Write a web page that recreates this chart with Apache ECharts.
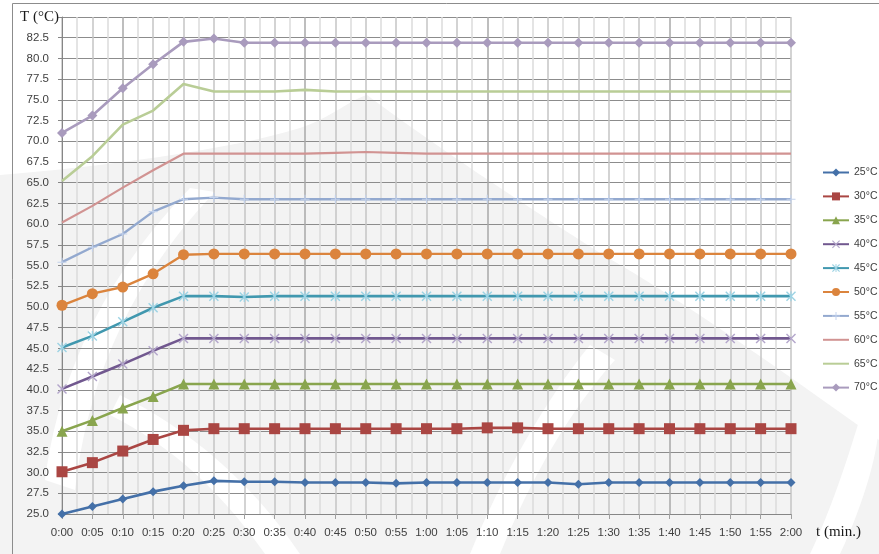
<!DOCTYPE html>
<html>
<head>
<meta charset="utf-8">
<script src="https://cdn.jsdelivr.net/npm/echarts@6/dist/echarts.min.js"></script>
<style>
  html, body { margin: 0; padding: 0; background: #fff; }
  #chart { width: 879px; height: 554px; }
</style>
</head>
<body>
<div id="chart"></div>
<script>
// Elapsed time (seconds) and the tick labels shown under the axis
const seconds = [0, 5, 10, 15, 20, 25, 30, 35, 40, 45, 50, 55, 60, 65, 70, 75, 80, 85, 90, 95, 100, 105, 110, 115, 120];
const timeLabels = ['0:00', '0:05', '0:10', '0:15', '0:20', '0:25', '0:30', '0:35', '0:40', '0:45', '0:50', '0:55',
  '1:00', '1:05', '1:10', '1:15', '1:20', '1:25', '1:30', '1:35', '1:40', '1:45', '1:50', '1:55', '2:00'];

// Measured temperature (°C) for each set point
const t25 = [25.0, 25.9, 26.8, 27.7, 28.4, 29.0, 28.9, 28.9, 28.8, 28.8, 28.8, 28.7, 28.8, 28.8, 28.8, 28.8, 28.8, 28.6, 28.8, 28.8, 28.8, 28.8, 28.8, 28.8, 28.8];
const t30 = [30.1, 31.2, 32.6, 34.0, 35.1, 35.3, 35.3, 35.3, 35.3, 35.3, 35.3, 35.3, 35.3, 35.3, 35.4, 35.4, 35.3, 35.3, 35.3, 35.3, 35.3, 35.3, 35.3, 35.3, 35.3];
const t35 = [35.0, 36.3, 37.8, 39.2, 40.7, 40.7, 40.7, 40.7, 40.7, 40.7, 40.7, 40.7, 40.7, 40.7, 40.7, 40.7, 40.7, 40.7, 40.7, 40.7, 40.7, 40.7, 40.7, 40.7, 40.7];
const t40 = [40.1, 41.6, 43.1, 44.7, 46.2, 46.2, 46.2, 46.2, 46.2, 46.2, 46.2, 46.2, 46.2, 46.2, 46.2, 46.2, 46.2, 46.2, 46.2, 46.2, 46.2, 46.2, 46.2, 46.2, 46.2];
const t45 = [45.1, 46.5, 48.2, 49.9, 51.3, 51.3, 51.2, 51.3, 51.3, 51.3, 51.3, 51.3, 51.3, 51.3, 51.3, 51.3, 51.3, 51.3, 51.3, 51.3, 51.3, 51.3, 51.3, 51.3, 51.3];
const t50 = [50.2, 51.6, 52.4, 54.0, 56.3, 56.4, 56.4, 56.4, 56.4, 56.4, 56.4, 56.4, 56.4, 56.4, 56.4, 56.4, 56.4, 56.4, 56.4, 56.4, 56.4, 56.4, 56.4, 56.4, 56.4];
const t55 = [55.4, 57.2, 58.8, 61.5, 63.0, 63.2, 63.0, 63.0, 63.0, 63.0, 63.0, 63.0, 63.0, 63.0, 63.0, 63.0, 63.0, 63.0, 63.0, 63.0, 63.0, 63.0, 63.0, 63.0, 63.0];
const t60 = [60.2, 62.2, 64.4, 66.5, 68.5, 68.5, 68.5, 68.5, 68.5, 68.6, 68.7, 68.6, 68.5, 68.5, 68.5, 68.5, 68.5, 68.5, 68.5, 68.5, 68.5, 68.5, 68.5, 68.5, 68.5];
const t65 = [65.2, 68.2, 72.0, 73.7, 76.9, 76.0, 76.0, 76.0, 76.2, 76.0, 76.0, 76.0, 76.0, 76.0, 76.0, 76.0, 76.0, 76.0, 76.0, 76.0, 76.0, 76.0, 76.0, 76.0, 76.0];
const t70 = [71.0, 73.1, 76.4, 79.3, 82.0, 82.4, 81.9, 81.9, 81.9, 81.9, 81.9, 81.9, 81.9, 81.9, 81.9, 81.9, 81.9, 81.9, 81.9, 81.9, 81.9, 81.9, 81.9, 81.9, 81.9];

const seriesNames = ['25°C', '30°C', '35°C', '40°C', '45°C', '50°C', '55°C', '60°C', '65°C', '70°C'];
const seriesValues = [t25, t30, t35, t40, t45, t50, t55, t60, t65, t70];

// Custom marker shapes
const crossPath = 'path://M0,1 L1,0 L5,4 L9,0 L10,1 L6,5 L10,9 L9,10 L5,6 L1,10 L0,9 L4,5 Z';
const starPath = crossPath + ' M4.4,0 L5.6,0 L5.6,10 L4.4,10 Z';
const plusPath = 'path://M4.4,0 L5.6,0 L5.6,10 L4.4,10 Z M0,4.4 L10,4.4 L10,5.6 L0,5.6 Z';

const styles = [
  { color: '#4470A8', symbol: 'diamond', size: 9, width: 2.6 },
  { color: '#AA4643', symbol: 'rect', size: 11, width: 2.6 },
  { color: '#89A54E', symbol: 'triangle', size: 11, width: 2.6 },
  { color: '#71588F', symbol: crossPath, size: 10, width: 2.6, mark: '#B3A6CB' },
  { color: '#4198AF', symbol: starPath, size: 10, width: 2.6, mark: '#9DD3E4' },
  { color: '#DB843D', symbol: 'circle', size: 11, width: 2.4 },
  { color: '#93A9CF', symbol: plusPath, size: 9, width: 2.4, mark: '#C3D2EC' },
  { color: '#D19392', symbol: 'none', size: 0, width: 2.2, mark: 'rgba(0,0,0,0)' },
  { color: '#B9CD96', symbol: 'none', size: 0, width: 2.6, mark: 'rgba(0,0,0,0)' },
  { color: '#A99BBD', symbol: 'diamond', size: 10, width: 2.6 }
];

const series = seriesNames.map((name, i) => {
  const st = styles[i];
  return {
    name: name,
    type: 'line',
    data: seconds.map((s, k) => [s, seriesValues[i][k]]),
    symbol: st.symbol,
    symbolSize: st.size,
    showSymbol: st.symbol !== 'none',
    lineStyle: { color: st.color, width: st.width },
    itemStyle: { color: st.mark || st.color, borderWidth: 0 },
    emphasis: { disabled: true },
    animation: false,
    z: 3 + i
  };
});

// Slightly darker vertical grid line every 30 s, starting at 0:10
const vGridColors = ['#c4c4c4', '#c4c4c4', '#a9a9a9', '#c4c4c4', '#c4c4c4', '#c4c4c4'];

// Sample a chain of cubic curves [p0, c1, c2, p1, c1, c2, p2, ...] into polygon points
function curvePoints(pts, steps) {
  const out = [pts[0]];
  for (let s = 0; s + 3 < pts.length; s += 3) {
    const [p0, c1, c2, p1] = [pts[s], pts[s + 1], pts[s + 2], pts[s + 3]];
    for (let k = 1; k <= steps; k++) {
      const t = k / steps, u = 1 - t;
      out.push([
        u * u * u * p0[0] + 3 * u * u * t * c1[0] + 3 * u * t * t * c2[0] + t * t * t * p1[0],
        u * u * u * p0[1] + 3 * u * u * t * c1[1] + 3 * u * t * t * c2[1] + t * t * t * p1[1]
      ]);
    }
  }
  return out;
}
function band(a, b) {
  return curvePoints(a, 16).concat(curvePoints(b, 16).reverse());
}

// Faint background emblem behind the plot
const emblemGrey = '#f3f3f3';
const emblemMass = curvePoints([[0, 175], [90, 168], [230, 150], [300, 128], [330, 118], [350, 100], [367, 95],
  [400, 120], [470, 170], [600, 253], [690, 305], [780, 370], [879, 440]], 16)
  .concat([[879, 554], [0, 554]]);
const emblemStripes = [
  band([[45, 480], [55, 400], [90, 290], [190, 188]], [[75, 490], [85, 400], [120, 290], [215, 192]]),
  band([[120, 395], [190, 430], [250, 480], [300, 554]], [[110, 415], [170, 445], [220, 490], [265, 554]]),
  band([[590, 345], [545, 400], [500, 480], [470, 554]], [[615, 360], [570, 410], [530, 480], [500, 554]]),
  band([[879, 350], [860, 420], [840, 490], [810, 554]], [[879, 420], [879, 450], [865, 500], [840, 554]])
];
const emblem = [{
  type: 'polygon', silent: true, z: -20,
  shape: { points: emblemMass },
  style: { fill: emblemGrey }
}].concat(emblemStripes.map(p => ({
  type: 'polygon', silent: true, z: -19,
  shape: { points: p },
  style: { fill: '#ffffff' }
})));

const chart = echarts.init(document.getElementById('chart'), null, { renderer: 'canvas' });
chart.setOption({
  backgroundColor: '#ffffff',
  animation: false,
  grid: { left: 62, right: 88, top: 17, bottom: 40, containLabel: false },
  xAxis: {
    type: 'value',
    min: 0,
    max: 120,
    interval: 5,
    axisLine: { show: true, lineStyle: { color: '#868686', width: 1 } },
    axisTick: { show: true, length: 5, lineStyle: { color: '#a0a0a0' } },
    axisLabel: {
      margin: 13,
      color: '#404040',
      fontFamily: 'Liberation Sans',
      fontSize: 11.5,
      formatter: v => timeLabels[seconds.indexOf(v)] || ''
    },
    splitLine: { show: true, lineStyle: { color: vGridColors, width: 1.5 } },
    minorTick: { show: true, splitNumber: 2, length: 0 },
    minorSplitLine: { show: true, lineStyle: { color: '#dcdcdc', width: 1.5 } }
  },
  yAxis: {
    type: 'value',
    min: 25,
    max: 85,
    interval: 2.5,
    axisLine: { show: true, lineStyle: { color: '#868686', width: 1 } },
    axisTick: { show: true, length: 4, lineStyle: { color: '#868686' } },
    axisLabel: {
      margin: 13,
      color: '#404040',
      fontFamily: 'Liberation Sans',
      fontSize: 11.5,
      formatter: v => (v >= 85 ? '' : v.toFixed(1))
    },
    splitLine: { show: true, lineStyle: { color: '#8c8c8c', width: 1 } }
  },
  legend: {
    orient: 'vertical',
    left: 822,
    top: 167,
    padding: 0,
    itemWidth: 26,
    itemHeight: 10,
    itemGap: 12.9,
    textStyle: { color: '#404040', fontFamily: 'Liberation Sans', fontSize: 10.5 },
    data: seriesNames
  },
  graphic: emblem.concat([
    {
      type: 'rect',
      silent: true,
      z: 100,
      shape: { x: 12.5, y: 3.5, width: 900, height: 600 },
      style: { fill: 'none', stroke: '#8c8c8c', lineWidth: 1 }
    },
    {
      type: 'text',
      left: 20,
      top: 10,
      z: 100,
      style: { text: 'T (°C)', font: '15px "Liberation Serif"', fill: '#1a1a1a' }
    },
    {
      type: 'text',
      left: 816,
      top: 525,
      z: 100,
      style: { text: 't (min.)', font: '15px "Liberation Serif"', fill: '#1a1a1a' }
    }
  ]),
  series: series
});
</script>
</body>
</html>
